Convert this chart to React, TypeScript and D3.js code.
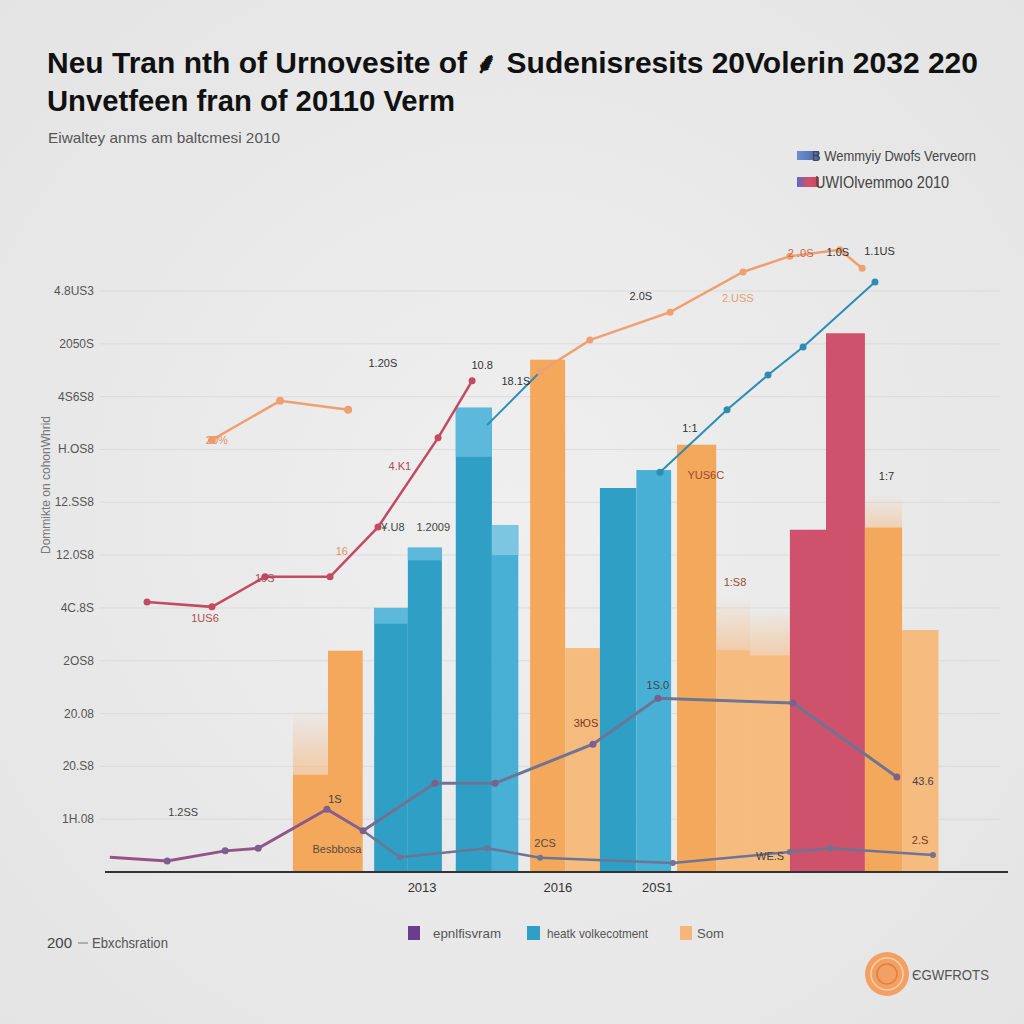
import React from "react";
import * as d3 from "d3";

// ---------- data ----------
const yTickValues = [10, 20, 30, 40, 50, 60, 70, 80, 90, 100, 110];
const yTickLabels = ["1H.08", "20.S8", "20.08", "2OS8", "4C.8S", "12.0S8", "12.SS8", "H.OS8", "4S6S8", "2050S", "4.8US3"];

const xTickSlots = [9.13, 13.04, 15.9];
const xTickLabels = ["2013", "2016", "20S1"];

const barStart = [5.41, 6.42, 7.75, 8.72, 10.1, 11.14, 12.24, 13.25, 14.25, 15.3, 16.47, 17.6, 18.57, 19.72, 20.76, 21.88, 22.95];
const barEnd = [6.42, 7.42, 8.72, 9.7, 11.14, 11.9, 13.25, 14.25, 15.3, 16.3, 17.6, 18.57, 19.72, 20.76, 21.88, 22.95, 24.0];
const barValues = [18.4, 41.9, 50, 61.4, 87.9, 65.7, 97, 42.4, 72.7, 76.1, 80.9, 42, 41, 64.8, 102, 65.2, 45.8];
const barCap = [18.4, 41.9, 47, 59, 78.6, 60, 97, 42.4, 72.7, 76.1, 80.9, 42, 41, 64.8, 102, 65.2, 45.8];
const barHaze = [30.7, 0, 0, 0, 0, 0, 0, 0, 0, 0, 0, 52, 50, 0, 0, 71.4, 0];
const barSeries = ["orange", "orange", "blue", "blue", "blue", "blueLight", "orange", "orangeLight", "blue", "blueLight", "orange", "orangeLight", "orangeLight", "red", "red", "orange", "orangeLight"];

const orangeLine1X = [3.08, 5.04, 7.0];
const orangeLine1Y = [81.8, 89.2, 87.5];
const orangeLine2X = [12.53, 13.96, 16.27, 18.37, 19.72, 21.16, 21.8];
const orangeLine2Y = [94.7, 100.7, 106.0, 113.6, 116.6, 117.8, 114.3];
const redLineX = [1.21, 3.08, 4.61, 6.48, 7.86, 9.59, 10.57];
const redLineY = [51.1, 50.2, 55.9, 55.9, 65.3, 82.2, 93.0];
const blueLine1X = [11.0, 12.53];
const blueLine1Y = [84.6, 94.7];
const blueLine2X = [15.98, 17.91, 19.09, 20.1, 22.17];
const blueLine2Y = [75.7, 87.5, 94.1, 99.4, 111.7];
const grayLine1X = [0.14, 1.79, 3.46, 4.41, 6.39, 7.43, 9.5, 11.23, 14.05, 15.92, 19.81, 22.8];
const grayLine1Y = [2.8, 2.1, 4.0, 4.5, 11.9, 7.8, 16.8, 16.8, 24.2, 32.9, 32.0, 18.0];
const grayLine2X = [7.43, 8.49, 11.0, 12.53, 16.35, 19.72, 20.88, 23.84];
const grayLine2Y = [7.8, 2.8, 4.5, 2.7, 1.7, 3.8, 4.5, 3.2];

const noteText = ["1.20S", "10.8", "18.1S", "2.0S", "2.USS", "2 .0S", "1.0S", "1.1US", "4.K1", "¥.U8", "1.2009", "16", "10S", "1US6", "20%", "1:1", "YUS6C", "1:7", "1:S8", "1.2SS", "1S", "Besbbosa", "3ЮS", "1S.0", "43.6", "2CS", "WE.S", "2.S"];
const noteX = [8.0, 10.86, 11.83, 15.43, 18.22, 20.03, 21.1, 22.3, 8.49, 8.29, 9.45, 6.82, 4.6, 2.88, 3.22, 16.84, 17.3, 22.5, 18.14, 2.25, 6.62, 6.68, 13.85, 15.92, 23.55, 12.67, 19.15, 23.47];
const noteY = [96.4, 96.0, 93.0, 109.0, 108.7, 117.2, 117.4, 117.6, 76.9, 65.3, 65.3, 60.8, 55.7, 48.1, 81.8, 84.1, 75.2, 75.0, 54.9, 11.4, 13.8, 4.4, 28.2, 35.4, 17.2, 5.5, 3.0, 6.1];
const noteColor = ["#333", "#333", "#333", "#333", "#e8a070", "#c06a50", "#333", "#333", "#b04a50", "#444", "#444", "#e09060", "#b04a50", "#b04a50", "#e09060", "#333", "#9a4a30", "#333", "#9a4a30", "#444", "#444", "#5a4a40", "#7a3a20", "#444", "#444", "#5a4a40", "#444", "#7a3a20"];

const title1 = "Neu  Tran nth of Urnovesite of ⸙ Sudenisresits 20Volerin  2032 220";
const title2 = "Unvetfeen fran of 20110 Verm";
const subtitle = "Eiwaltey anms am baltcmesi 2010";
const topLegend = ["B Wemmyiy Dwofs Verveorn", "UWIOlvemmoo 2010"];
const bottomLegend = ["epnlfisvram", "heatk volkecotment", "Som"];
const yAxisTitle = "Dommikte on cohonWhrid";

// ---------- styles ----------
const colors: Record<string, string> = {
  orange: "#f4a85c",
  orangeLight: "#f6bb7e",
  blue: "#2f9fc6",
  blueLight: "#47b0d4",
  red: "#cf526c",
};
const capColors: Record<string, string> = {
  orange: "#f4a85c",
  orangeLight: "#f6bb7e",
  blue: "#5cb9dc",
  blueLight: "#7cc6e2",
  red: "#d8667e",
};

const W = 1024;
const H = 1024;

export default function App() {
  const x = d3.scaleLinear().domain([0, 26]).range([105, 1008]);
  const y = d3.scaleLinear().domain([0, 110]).range([872, 291]);

  const line = d3
    .line<[number, number]>()
    .x((d) => x(d[0]))
    .y((d) => y(d[1]));
  const pts = (xs: number[], ys: number[]) => xs.map((v, i) => [v, ys[i]] as [number, number]);

  const font = "'Liberation Sans', Arial, sans-serif";
  const narrow = "'Liberation Sans Narrow', 'Liberation Sans', Arial, sans-serif";

  const dots = (xs: number[], ys: number[], c: string, r = 3.5) =>
    xs.map((v, i) => <circle key={i} cx={x(v)} cy={y(ys[i])} r={r} fill={c} />);

  return (
    <div style={{ position: "absolute", left: 0, top: 0, width: W, height: H }}>
      <svg width={W} height={H} viewBox={`0 0 ${W} ${H}`} style={{ display: "block" }}>
        <defs>
          <radialGradient id="bg" cx="50%" cy="50%" r="70%">
            <stop offset="0%" stopColor="#efefef" />
            <stop offset="100%" stopColor="#e4e4e4" />
          </radialGradient>
          <linearGradient id="hazeOrange" x1="0" y1="1" x2="0" y2="0">
            <stop offset="0%" stopColor="#f6b57a" stopOpacity="0.9" />
            <stop offset="100%" stopColor="#f6b57a" stopOpacity="0" />
          </linearGradient>
          <linearGradient id="grayGrad" gradientUnits="userSpaceOnUse" x1="100" y1="0" x2="600" y2="0">
            <stop offset="0%" stopColor="#9a4f86" />
            <stop offset="45%" stopColor="#8a5a8a" />
            <stop offset="60%" stopColor="#6f7396" />
            <stop offset="100%" stopColor="#6d7494" />
          </linearGradient>
          <linearGradient id="lg1" x1="0" y1="0" x2="1" y2="0">
            <stop offset="0%" stopColor="#6f8fd0" />
            <stop offset="100%" stopColor="#4a66a8" />
          </linearGradient>
          <linearGradient id="lg2" x1="0" y1="0" x2="1" y2="0">
            <stop offset="0%" stopColor="#5a6cc0" />
            <stop offset="50%" stopColor="#d4506a" />
            <stop offset="100%" stopColor="#c94a60" />
          </linearGradient>
        </defs>
        <rect x={0} y={0} width={W} height={H} fill="url(#bg)" />

        {/* titles */}
        <text x={47} y={73} fontFamily={font} fontWeight="bold" fontSize={29} fill="#111" textLength={931} lengthAdjust="spacingAndGlyphs">
          {title1}
        </text>
        <text x={47} y={111} fontFamily={font} fontWeight="bold" fontSize={29} fill="#111" textLength={408} lengthAdjust="spacingAndGlyphs">
          {title2}
        </text>
        <text x={48} y={143} fontFamily={narrow} fontSize={15} fill="#555" textLength={232} lengthAdjust="spacingAndGlyphs">
          {subtitle}
        </text>

        {/* top-right legend */}
        <rect x={797} y={151} width={22} height={9} fill="url(#lg1)" />
        <text x={812} y={161} fontFamily={narrow} fontSize={14} fill="#444" textLength={164} lengthAdjust="spacingAndGlyphs">
          {topLegend[0]}
        </text>
        <rect x={797} y={177} width={22} height={10} fill="url(#lg2)" />
        <text x={815} y={188} fontFamily={font} fontSize={16} fill="#444" textLength={134} lengthAdjust="spacingAndGlyphs">
          {topLegend[1]}
        </text>

        {/* gridlines */}
        {yTickValues.map((v) => (
          <line key={v} x1={100} x2={1000} y1={y(v)} y2={y(v)} stroke="#d6d6d6" strokeWidth={1} opacity={0.7} />
        ))}

        {/* y tick labels */}
        {yTickValues.map((v, i) => (
          <text key={v} x={94} y={y(v) + 4} textAnchor="end" fontFamily={narrow} fontSize={12} fill="#555">
            {yTickLabels[i]}
          </text>
        ))}
        <text
          transform={`translate(${50},${485}) rotate(-90)`}
          textAnchor="middle"
          fontFamily={narrow}
          fontSize={12}
          fill="#777"
        >
          {yAxisTitle}
        </text>

        {/* bars */}
        {barValues.map((v, i) => {
          const s = barSeries[i];
          const x0 = x(barStart[i]);
          const w = x(barEnd[i]) - x0;
          return (
            <g key={i}>
              {barHaze[i] > 0 && (
                <rect x={x0} y={y(barHaze[i])} width={w} height={y(v) - y(barHaze[i]) + 30} fill="url(#hazeOrange)" />
              )}
              <rect x={x0} y={y(v)} width={w} height={y(0) - y(v)} fill={colors[s]} />
              {barCap[i] < v && <rect x={x0} y={y(v)} width={w} height={y(barCap[i]) - y(v)} fill={capColors[s]} />}
            </g>
          );
        })}

        {/* lower lines */}
        <path d={line(pts(grayLine2X, grayLine2Y)) || ""} fill="none" stroke="#6d7494" strokeWidth={2.5} />
        <path d={line(pts(grayLine1X, grayLine1Y)) || ""} fill="none" stroke="url(#grayGrad)" strokeWidth={3} />
        {dots(grayLine1X.slice(1), grayLine1Y.slice(1), "#7d5f8e", 3.5)}
        {dots(grayLine2X.slice(1), grayLine2Y.slice(1), "#6d7494", 3)}

        {/* upper lines */}
        <path d={line(pts(orangeLine1X, orangeLine1Y)) || ""} fill="none" stroke="#f0a070" strokeWidth={2.5} />
        {dots(orangeLine1X, orangeLine1Y, "#f0a070", 4)}
        <path d={line(pts(redLineX, redLineY)) || ""} fill="none" stroke="#c24a62" strokeWidth={2.5} />
        {dots(redLineX, redLineY, "#c24a62", 3.5)}
        <path d={line(pts(blueLine1X, blueLine1Y)) || ""} fill="none" stroke="#2b8db5" strokeWidth={2} />
        <path d={line(pts(orangeLine2X, orangeLine2Y)) || ""} fill="none" stroke="#f0a070" strokeWidth={2.5} />
        {dots(orangeLine2X, orangeLine2Y, "#f0a070", 3.5)}
        <path d={line(pts(blueLine2X, blueLine2Y)) || ""} fill="none" stroke="#2b8db5" strokeWidth={2} />
        {dots(blueLine2X, blueLine2Y, "#2b8db5", 3.5)}

        {/* annotations */}
        {noteText.map((t, i) => (
          <text key={i} x={x(noteX[i])} y={y(noteY[i]) + 4} textAnchor="middle" fontFamily={narrow} fontSize={11} fill={noteColor[i]}>
            {t}
          </text>
        ))}

        {/* x axis */}
        <line x1={105} x2={1008} y1={y(0)} y2={y(0)} stroke="#333" strokeWidth={2} />
        {xTickSlots.map((s, i) => (
          <text key={i} x={x(s)} y={y(0) + 20} textAnchor="middle" fontFamily={narrow} fontSize={13} fill="#333">
            {xTickLabels[i]}
          </text>
        ))}

        {/* bottom legend */}
        <rect x={408} y={926} width={12} height={14} fill="#6a3d8f" />
        <text x={433} y={938} fontFamily={narrow} fontSize={13} fill="#555" textLength={68} lengthAdjust="spacingAndGlyphs">
          {bottomLegend[0]}
        </text>
        <rect x={527} y={926} width={13} height={14} fill="#2f9fc6" />
        <text x={547} y={938} fontFamily={narrow} fontSize={13} fill="#555" textLength={101} lengthAdjust="spacingAndGlyphs">
          {bottomLegend[1]}
        </text>
        <rect x={680} y={926} width={12} height={14} fill="#f6b57a" />
        <text x={697} y={938} fontFamily={narrow} fontSize={13} fill="#555">
          {bottomLegend[2]}
        </text>

        {/* bottom-left note */}
        <text x={47} y={948} fontFamily={font} fontSize={15} fill="#444">200</text>
        <line x1={78} x2={88} y1={943} y2={943} stroke="#777" strokeWidth={1} />
        <text x={92} y={948} fontFamily={narrow} fontSize={14} fill="#555" textLength={76} lengthAdjust="spacingAndGlyphs">
          Ebxchsration
        </text>

        {/* logo */}
        <circle cx={887} cy={974} r={22} fill="#f2a064" />
        <circle cx={887} cy={974} r={16} fill="none" stroke="#f8d0a8" strokeWidth={1.5} />
        <circle cx={887} cy={974} r={10} fill="none" stroke="#e08040" strokeWidth={1.5} />
        <text x={912} y={980} fontFamily={font} fontSize={15} fill="#555" textLength={77} lengthAdjust="spacingAndGlyphs">
          ЄGWFROTS
        </text>
      </svg>
    </div>
  );
}
